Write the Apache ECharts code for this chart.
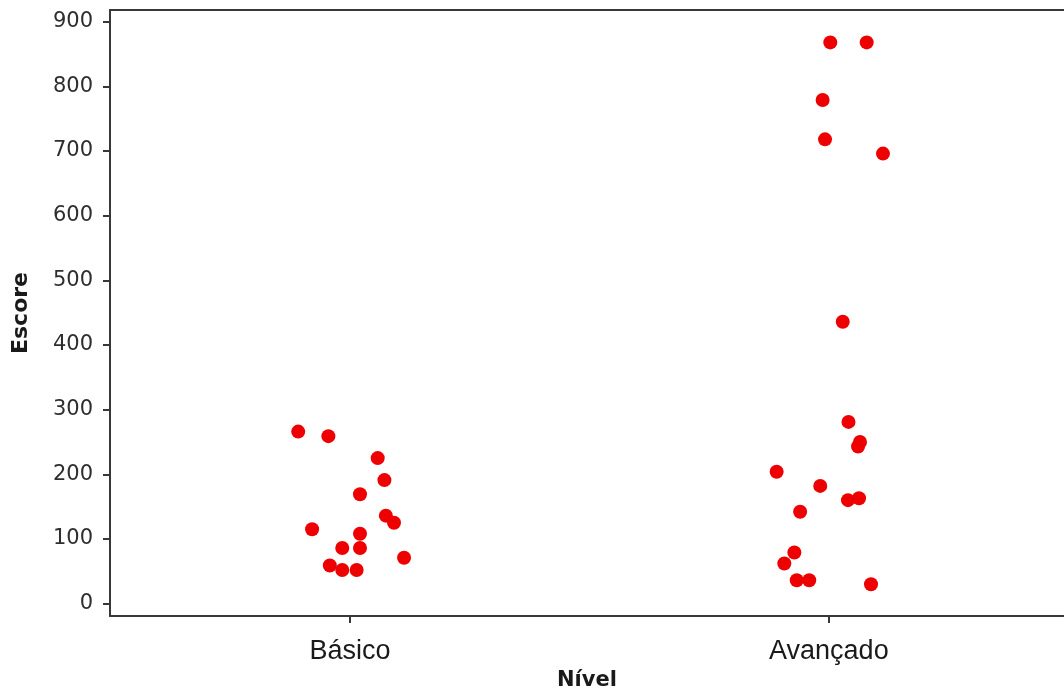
<!DOCTYPE html>
<html>
<head>
<meta charset="utf-8">
<script src="https://cdn.jsdelivr.net/npm/echarts@6/dist/echarts.min.js"></script>
<style>
html,body{margin:0;padding:0;background:#fff;}
#chart{width:1064px;height:688px;}
</style>
</head>
<body>
<div id="chart"></div>
<script>
const categories = ['Básico', 'Avançado'];
const yTicks = [0, 100, 200, 300, 400, 500, 600, 700, 800, 900];

// horizontal jitter (offset from category centre)
const basicoJitter = [-0.108, -0.045, 0.058, 0.072, 0.021, 0.075, 0.092, -0.079, 0.021, -0.016, 0.021, 0.113, -0.042, -0.016, 0.014];
const basicoScore  = [266, 259, 225, 191, 169, 136, 125, 115, 108, 86, 86, 71, 59, 52, 52];

const avancadoJitter = [0.041, 0.065, 0.061, -0.109, -0.018, 0.040, 0.063, -0.060, -0.072, -0.093, -0.067, -0.041, 0.088, 0.003, 0.079, -0.013, -0.008, 0.113, 0.029];
const avancadoScore  = [281, 250, 243, 204, 182, 160, 163, 142, 79, 62, 36, 36, 30, 868, 868, 779, 718, 696, 436];

function toPoints(catIndex, jitter, score) {
  return score.map((v, i) => [catIndex + 1 + jitter[i], v]);
}
const points = toPoints(0, basicoJitter, basicoScore).concat(toPoints(1, avancadoJitter, avancadoScore));

const lineCol = '#383838';
const chart = echarts.init(document.getElementById('chart'), null, {renderer: 'canvas'});
chart.setOption({
  animation: false,
  backgroundColor: '#ffffff',
  grid: {left: 110, right: 0, top: 10, bottom: 72, containLabel: false, outerBoundsMode: 'none'},
  xAxis: [{
    type: 'value',
    min: 0.499, max: 2.491,
    name: 'Nível',
    nameLocation: 'middle',
    nameGap: 48,
    nameTextStyle: {fontFamily: 'DejaVu Sans', fontWeight: 'bold', fontSize: 21, color: '#1a1a1a'},
    axisLine: {show: true, onZero: false, lineStyle: {color: lineCol, width: 2}},
    axisTick: {show: true, customValues: [1, 2], length: 7, lineStyle: {color: lineCol, width: 2}},
    axisLabel: {
      customValues: [1, 2],
      formatter: v => categories[Math.round(v) - 1] || '',
      fontFamily: 'Liberation Sans', fontSize: 27, color: '#1a1a1a', margin: 22
    },
    splitLine: {show: false}
  }, {
    type: 'value',
    position: 'top',
    min: 0.499, max: 2.491,
    axisLine: {show: true, onZero: false, lineStyle: {color: lineCol, width: 2}},
    axisTick: {show: false},
    axisLabel: {show: false},
    splitLine: {show: false}
  }],
  yAxis: {
    type: 'value',
    min: -19.2, max: 918.1,
    name: 'Escore',
    nameLocation: 'middle',
    nameGap: 78,
    nameRotate: 90,
    nameTextStyle: {fontFamily: 'DejaVu Sans', fontWeight: 'bold', fontSize: 22, color: '#1a1a1a'},
    axisLine: {show: true, onZero: false, lineStyle: {color: lineCol, width: 2}},
    axisTick: {show: true, customValues: yTicks, length: 7, lineStyle: {color: lineCol, width: 2}},
    axisLabel: {
      customValues: yTicks,
      fontFamily: 'DejaVu Sans', fontSize: 21, color: '#2e2e2e', margin: 17
    },
    splitLine: {show: false}
  },
  series: [{
    type: 'scatter',
    xAxisIndex: 0,
    data: points,
    symbol: 'circle',
    symbolSize: 14,
    itemStyle: {color: '#ee0000', opacity: 1}
  }]
});
</script>
</body>
</html>
